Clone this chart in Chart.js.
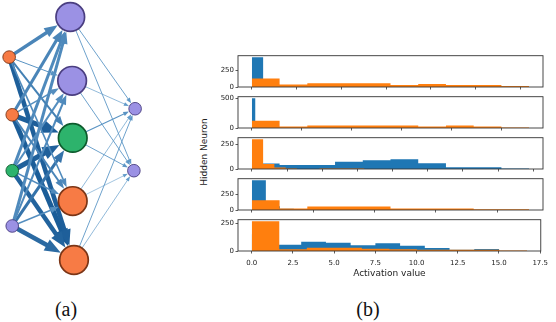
<!DOCTYPE html>
<html>
<head>
<meta charset="utf-8">
<script src="https://cdn.jsdelivr.net/npm/chart.js@4.4.1/dist/chart.umd.min.js"></script>
<style>
  html, body { margin:0; padding:0; background:#fff; }
  body { width:556px; height:322px; position:relative; overflow:hidden; }
  canvas { position:absolute; }
  #ylab { position:absolute; left:154px; top:146px; width:100px; height:12px; line-height:12px; text-align:center;
          font-family:'DejaVu Sans',sans-serif; font-size:9px; color:#222; transform:rotate(-90deg); white-space:nowrap; }
  .cap { position:absolute; top:297px; width:60px; text-align:center; line-height:24px;
         font-family:'Liberation Serif','Times New Roman',serif; font-size:20px; color:#111; }
</style>
</head>
<body>
<canvas id="net" width="160" height="290" style="left:0px;top:0px;"></canvas>
<div id="ylab">Hidden Neuron</div>
<div class="cap" style="left:36px;">(a)</div>
<div class="cap" style="left:338px;">(b)</div>
<script>
// ======================= DATA =======================
// (b) histograms of activation values, one panel per hidden neuron
const xTickVals   = [0, 2.5, 5, 7.5, 10, 12.5, 15, 17.5, 20];
const xTickLabels = ['0.0', '2.5', '5.0', '7.5', '10.0', '12.5', '15.0', '17.5', '20.0'];
const yTicks1 = [0, 250];
const yTicks2 = [0, 500];
const yTicks3 = [0, 250];
const yTicks4 = [0, 250];
const yTicks5 = [0, 250];
// histogram upper range (bins start at 0, 10 equal bins)
const blueRange   = [6.3, 1.7, 19.7, 5.7, 15.0];
const orangeRange = [15.5, 13.86, 8.0, 11.3, 16.7];
const blueCounts1   = [450, 60, 25, 15, 12, 10, 8, 6, 5, 3];
const orangeCounts1 = [128, 39, 58, 58, 58, 32, 46, 32, 32, 14];
const blueCounts2   = [497, 30, 15, 10, 8, 6, 5, 4, 3, 2];
const orangeCounts2 = [122, 26, 42, 42, 42, 42, 26, 42, 26, 10];
const blueCounts3   = [55, 40, 40, 75, 90, 100, 59, 17, 17, 6];
const orangeCounts3 = [304, 50, 16, 6, 0, 0, 6, 6, 6, 6];
const blueCounts4   = [467, 60, 20, 15, 12, 10, 8, 5, 4, 3];
const orangeCounts4 = [154, 24, 53, 53, 53, 24, 24, 24, 10, 10];
const blueCounts5   = [150, 55, 82, 74, 52, 69, 47, 27, 11, 19];
const orangeCounts5 = [267, 16, 30, 30, 21, 16, 11, 11, 11, 5];

// (a) network: node classes and layout coordinates (layer, row)
const inputClass  = ['orange', 'orange', 'green', 'purple'];
const hiddenClass = ['purple', 'purple', 'green', 'orange', 'orange'];
const outputClass = ['purple', 'purple'];
const inputLayer  = [-0.03, 0.02, 0.02, 0.02];
const inputRow    = [0.66, 1.61, 2.53, 3.44];
const hiddenLayer = [0.96, 0.99, 1.0, 1.0, 1.02];
const hiddenRow   = [0.0, 1.05, 1.99, 3.03, 4.0];
const outputLayer = [2.01, 1.99];
const outputRow   = [1.51, 2.53];
// input -> hidden edge strength (line weight) and intensity (0 light .. 1 dark)
const ihWeight = [
  [3.5, 1.0, 2.0, 1.6, 4.6],
  [3.0, 1.5, 5.0, 2.0, 5.0],
  [3.0, 2.0, 5.0, 1.5, 4.5],
  [3.0, 2.0, 3.0, 1.5, 4.6]
];
const ihShade = [
  [0.50, 0.35, 0.55, 0.45, 0.92],
  [0.50, 0.40, 0.92, 0.50, 0.95],
  [0.45, 0.40, 0.90, 0.45, 0.88],
  [0.45, 0.45, 0.70, 0.40, 0.80]
];
// hidden -> output edges
const hoWeight = [[0.9, 0.9], [0.7, 0.9], [1.1, 0.9], [0.7, 0.6], [0.9, 0.7]];
const hoShade  = [[0.30, 0.30], [0.25, 0.30], [0.35, 0.30], [0.25, 0.25], [0.30, 0.25]];

// ======================= STYLE =======================
Chart.defaults.font.family = "'DejaVu Sans', sans-serif";
Chart.defaults.font.size = 7;
Chart.defaults.color = '#222';

const nodeFill   = { orange: '#f77b45', green: '#2db36c', purple: '#9b91e4' };
const nodeStroke = { orange: '#7b3516', green: '#0d5a2c', purple: '#4a3e80' };
const LIGHT = [125, 178, 220], DARK = [22, 88, 148];
function blue(s) {
  const c = LIGHT.map((l, i) => Math.round(l + (DARK[i] - l) * s));
  return `rgb(${c[0]},${c[1]},${c[2]})`;
}

// ======================= (a) NETWORK =======================
const arrowPlugin = {
  id: 'arrows',
  beforeDatasetDraw(chart, args) {
    const ds = chart.data.datasets[args.index];
    if (!ds.arrow) return;
    const xs = chart.scales.x, ys = chart.scales.y;
    const ax = xs.getPixelForValue(ds.data[0].x), ay = ys.getPixelForValue(ds.data[0].y);
    const bx = xs.getPixelForValue(ds.data[1].x), by = ys.getPixelForValue(ds.data[1].y);
    const L = Math.hypot(bx - ax, by - ay), ux = (bx - ax) / L, uy = (by - ay) / L;
    const tipX = bx - ux * ds.arrow.gap, tipY = by - uy * ds.arrow.gap;
    const baseX = tipX - ux * ds.arrow.len * 0.8, baseY = tipY - uy * ds.arrow.len * 0.8;
    const p = args.meta.data[1];
    p.x = baseX; p.y = baseY;
    ds._arrowGeom = { tipX, tipY, ux, uy };
  },
  afterDatasetDraw(chart, args) {
    const ds = chart.data.datasets[args.index];
    if (!ds.arrow || !ds._arrowGeom) return;
    const { tipX, tipY, ux, uy } = ds._arrowGeom;
    const bx = tipX - ux * ds.arrow.len, by = tipY - uy * ds.arrow.len, hw = ds.arrow.hw;
    const ctx = chart.ctx;
    ctx.save();
    ctx.fillStyle = ds.borderColor;
    ctx.beginPath();
    ctx.moveTo(tipX, tipY);
    ctx.lineTo(bx - uy * hw, by + ux * hw);
    ctx.lineTo(bx + uy * hw, by - ux * hw);
    ctx.closePath();
    ctx.fill();
    ctx.restore();
  }
};

const R_SMALL = 6.3, R_BIG = 14.3;
const netDatasets = [];
// nodes
const nodes = [];
inputClass.forEach((c, i) => nodes.push({ x: inputLayer[i], y: inputRow[i], c, r: R_SMALL, bw: 0.9 }));
hiddenClass.forEach((c, i) => nodes.push({ x: hiddenLayer[i], y: hiddenRow[i], c, r: R_BIG, bw: 1.7 }));
outputClass.forEach((c, i) => nodes.push({ x: outputLayer[i], y: outputRow[i], c, r: R_SMALL, bw: 0.9 }));
netDatasets.push({
  type: 'scatter', order: 0, clip: false,
  data: nodes.map(n => ({ x: n.x, y: n.y })),
  pointRadius: nodes.map(n => n.r),
  pointBackgroundColor: nodes.map(n => nodeFill[n.c]),
  pointBorderColor: nodes.map(n => nodeStroke[n.c]),
  pointBorderWidth: nodes.map(n => n.bw)
});
// hidden -> output edges (thin)
hoWeight.forEach((row, h) => row.forEach((w, o) => {
  netDatasets.push({
    type: 'line', order: 2, clip: false, showLine: true, pointRadius: 0,
    data: [{ x: hiddenLayer[h], y: hiddenRow[h] }, { x: outputLayer[o], y: outputRow[o] }],
    borderWidth: w, borderColor: blue(hoShade[h][o]),
    arrow: { gap: R_SMALL + 0.5, len: 4 + 1.5 * w, hw: 1.3 + 0.9 * w }
  });
}));
// input -> hidden edges (thin ones first, thick on top)
const ihList = [];
ihWeight.forEach((row, i) => row.forEach((w, h) => ihList.push({ i, h, w })));
ihList.sort((a, b) => a.w - b.w);
ihList.forEach(({ i, h, w }) => {
  netDatasets.push({
    type: 'line', order: 1, clip: false, showLine: true, pointRadius: 0,
    data: [{ x: inputLayer[i], y: inputRow[i] }, { x: hiddenLayer[h], y: hiddenRow[h] }],
    borderWidth: w, borderColor: blue(ihShade[i][h]),
    arrow: { gap: R_BIG + 0.8, len: 5 + 2.4 * w, hw: 1.5 + 1.05 * w }
  });
});

new Chart(document.getElementById('net'), {
  type: 'scatter',
  data: { datasets: netDatasets },
  options: {
    responsive: false, animation: false, devicePixelRatio: 1, events: [],
    layout: { padding: 0, autoPadding: false },
    plugins: { legend: { display: false }, tooltip: { enabled: false } },
    scales: {
      x: { type: 'linear', min: -0.178, max: 2.413, display: false },
      y: { type: 'linear', min: -0.28, max: 4.494, reverse: true, display: false }
    }
  },
  plugins: [arrowPlugin]
});

// ======================= (b) HISTOGRAMS =======================
const panels = [
  { br: blueRange[0], blue: blueCounts1, or: orangeRange[0], orange: orangeCounts1, yt: yTicks1 },
  { br: blueRange[1], blue: blueCounts2, or: orangeRange[1], orange: orangeCounts2, yt: yTicks2 },
  { br: blueRange[2], blue: blueCounts3, or: orangeRange[2], orange: orangeCounts3, yt: yTicks3 },
  { br: blueRange[3], blue: blueCounts4, or: orangeRange[3], orange: orangeCounts4, yt: yTicks4 },
  { br: blueRange[4], blue: blueCounts5, or: orangeRange[4], orange: orangeCounts5, yt: yTicks5 }
];

function histPoints(range, counts) {
  const n = counts.length, w = range / n;
  const pts = counts.map((c, i) => ({ x: i * w, y: c }));
  pts.push({ x: range, y: counts[n - 1] });
  return pts;
}

const frame = {
  id: 'frame',
  afterDraw(c) {
    const { ctx, chartArea: a } = c;
    ctx.save();
    ctx.strokeStyle = '#333';
    ctx.lineWidth = 0.9;
    ctx.strokeRect(a.left, a.top, a.right - a.left, a.bottom - a.top);
    ctx.restore();
  }
};

const PANEL_TOP = [53, 94, 135, 176, 217];
const PANEL_H = 34, PAD_T = 3, LEFT = 195, YAXIS_W = 43, PAD_R = 10, CW = 358;

panels.forEach((p, k) => {
  const last = k === panels.length - 1;
  const xAxisH = last ? 28 : 6;
  const cv = document.createElement('canvas');
  cv.width = CW; cv.height = PAD_T + PANEL_H + xAxisH;
  cv.style.left = LEFT + 'px';
  cv.style.top = (PANEL_TOP[k] - PAD_T) + 'px';
  document.body.appendChild(cv);

  const D = Math.max(p.br, p.or);
  const yMax = 1.05 * Math.max(...p.blue, ...p.orange);
  const common = { type: 'line', stepped: true, fill: 'origin', pointRadius: 0, pointHitRadius: 0,
                   borderWidth: 0, borderColor: 'rgba(0,0,0,0)', tension: 0 };
  new Chart(cv, {
    type: 'line',
    data: {
      datasets: [
        Object.assign({ label: 'orange', data: histPoints(p.or, p.orange), backgroundColor: '#ff7f0e' }, common),
        Object.assign({ label: 'blue', data: histPoints(p.br, p.blue), backgroundColor: '#1f77b4' }, common)
      ]
    },
    options: {
      responsive: false, animation: false, devicePixelRatio: 1, events: [],
      layout: { padding: { top: PAD_T, right: PAD_R, left: 0, bottom: 0 }, autoPadding: false },
      plugins: { legend: { display: false }, tooltip: { enabled: false } },
      scales: {
        x: {
          type: 'linear', min: -0.05 * D, max: 1.05 * D,
          afterFit: s => { s.height = xAxisH; },
          afterBuildTicks: s => { s.ticks = xTickVals.filter(v => v <= s.max).map(v => ({ value: v })); },
          grid: { display: true, drawOnChartArea: false, drawTicks: true, tickLength: 2.5, tickWidth: 0.8, tickColor: '#333' },
          border: { display: false },
          ticks: { display: last, padding: 5, maxRotation: 0, autoSkip: false, color: '#222', font: { size: 7 },
                   callback: v => xTickLabels[xTickVals.indexOf(v)] },
          title: { display: last, text: 'Activation value', color: '#222', font: { size: 9 }, padding: { top: 0, bottom: 0 } }
        },
        y: {
          type: 'linear', min: 0, max: yMax,
          afterFit: s => { s.width = YAXIS_W; },
          afterBuildTicks: s => { s.ticks = p.yt.map(v => ({ value: v })); },
          grid: { display: true, drawOnChartArea: false, drawTicks: true, tickLength: 2.5, tickWidth: 0.8, tickColor: '#333' },
          border: { display: false },
          ticks: { padding: 1.5, color: '#222', font: { size: 7 }, callback: v => String(v) }
        }
      }
    },
    plugins: [frame]
  });
});
</script>
</body>
</html>
